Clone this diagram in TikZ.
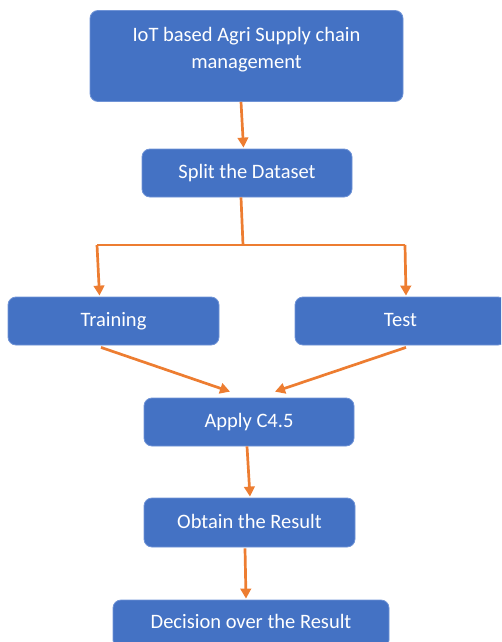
\documentclass[tikz,border=0pt]{standalone}
\usepackage{fontspec}
\setmainfont{Carlito}
\usetikzlibrary{arrows.meta}
\definecolor{boxblue}{HTML}{4472C4}
\definecolor{boxedge}{HTML}{6F93D6}
\definecolor{arroworange}{HTML}{ED7D31}
\tikzset{
  flowbox/.style={draw=boxedge, line width=0.8pt, fill=boxblue, rounded corners=8pt,
    text=white, font=\fontsize{20.5}{27}\selectfont, align=center, inner sep=0pt},
  flowarrow/.style={draw=arroworange, line width=2.7pt,
    -{Triangle[length=10pt,width=10.5pt]}},
  flowline/.style={draw=arroworange, line width=2.7pt}
}
\begin{document}
\begin{tikzpicture}[x=1pt,y=1pt]
\useasboundingbox (0,0) rectangle (501,-642);
\clip (0,0) rectangle (501,-642);
\node[flowbox, minimum width=313pt, minimum height=91pt] (top) at (246.5,-56) {\raisebox{1pt}[0pt][0pt]{\begin{tabular}{@{}c@{}}IoT based Agri Supply chain\\management\end{tabular}}};
\node[flowbox, minimum width=210pt, minimum height=48pt] (split) at (247,-173) {\raisebox{1.5pt}{Split the Dataset}};
\node[flowbox, minimum width=211pt, minimum height=48pt] (train) at (113.5,-321) {\raisebox{2.5pt}{Training}};
\node[flowbox, minimum width=211pt, minimum height=48pt] (test) at (400.5,-321) {\raisebox{2.5pt}{Test}};
\node[flowbox, minimum width=210pt, minimum height=48pt] (apply) at (249,-422) {\raisebox{1.5pt}{Apply C4.5}};
\node[flowbox, minimum width=211pt, minimum height=49pt] (obtain) at (249.5,-522.5) {\raisebox{1.5pt}{Obtain the Result}};
\node[flowbox, minimum width=276pt, minimum height=48pt] (decision) at (251,-624) {\raisebox{5.5pt}{Decision over the Result}};
\coordinate (j) at (243,-245);
\coordinate (jl) at (97,-245);
\coordinate (jr) at (405,-245);
\draw[flowarrow] ([xshift=-5.5pt]top.south) -- ([xshift=-3.5pt,yshift=1pt]split.north);
\draw[flowline] ([xshift=-6pt]split.south) -- (j);
\draw[flowline] (jl) -- (jr);
\draw[flowarrow] (jl) -- ([xshift=-14pt,yshift=1pt]train.north);
\draw[flowarrow] (jr) -- ([xshift=5.5pt,yshift=1pt]test.north);
\draw[flowarrow] ([xshift=-12.5pt,yshift=-2pt]train.south) -- ([xshift=-19pt,yshift=6pt]apply.north);
\draw[flowarrow] ([xshift=5.5pt,yshift=-2pt]test.south) -- ([xshift=26pt,yshift=6pt]apply.north);
\draw[flowarrow] ([xshift=-2pt]apply.south) -- ([xshift=0.5pt,yshift=1pt]obtain.north);
\draw[flowarrow] ([xshift=-4.5pt,yshift=-1pt]obtain.south) -- ([xshift=-5pt,yshift=1pt]decision.north);
\end{tikzpicture}
\end{document}
